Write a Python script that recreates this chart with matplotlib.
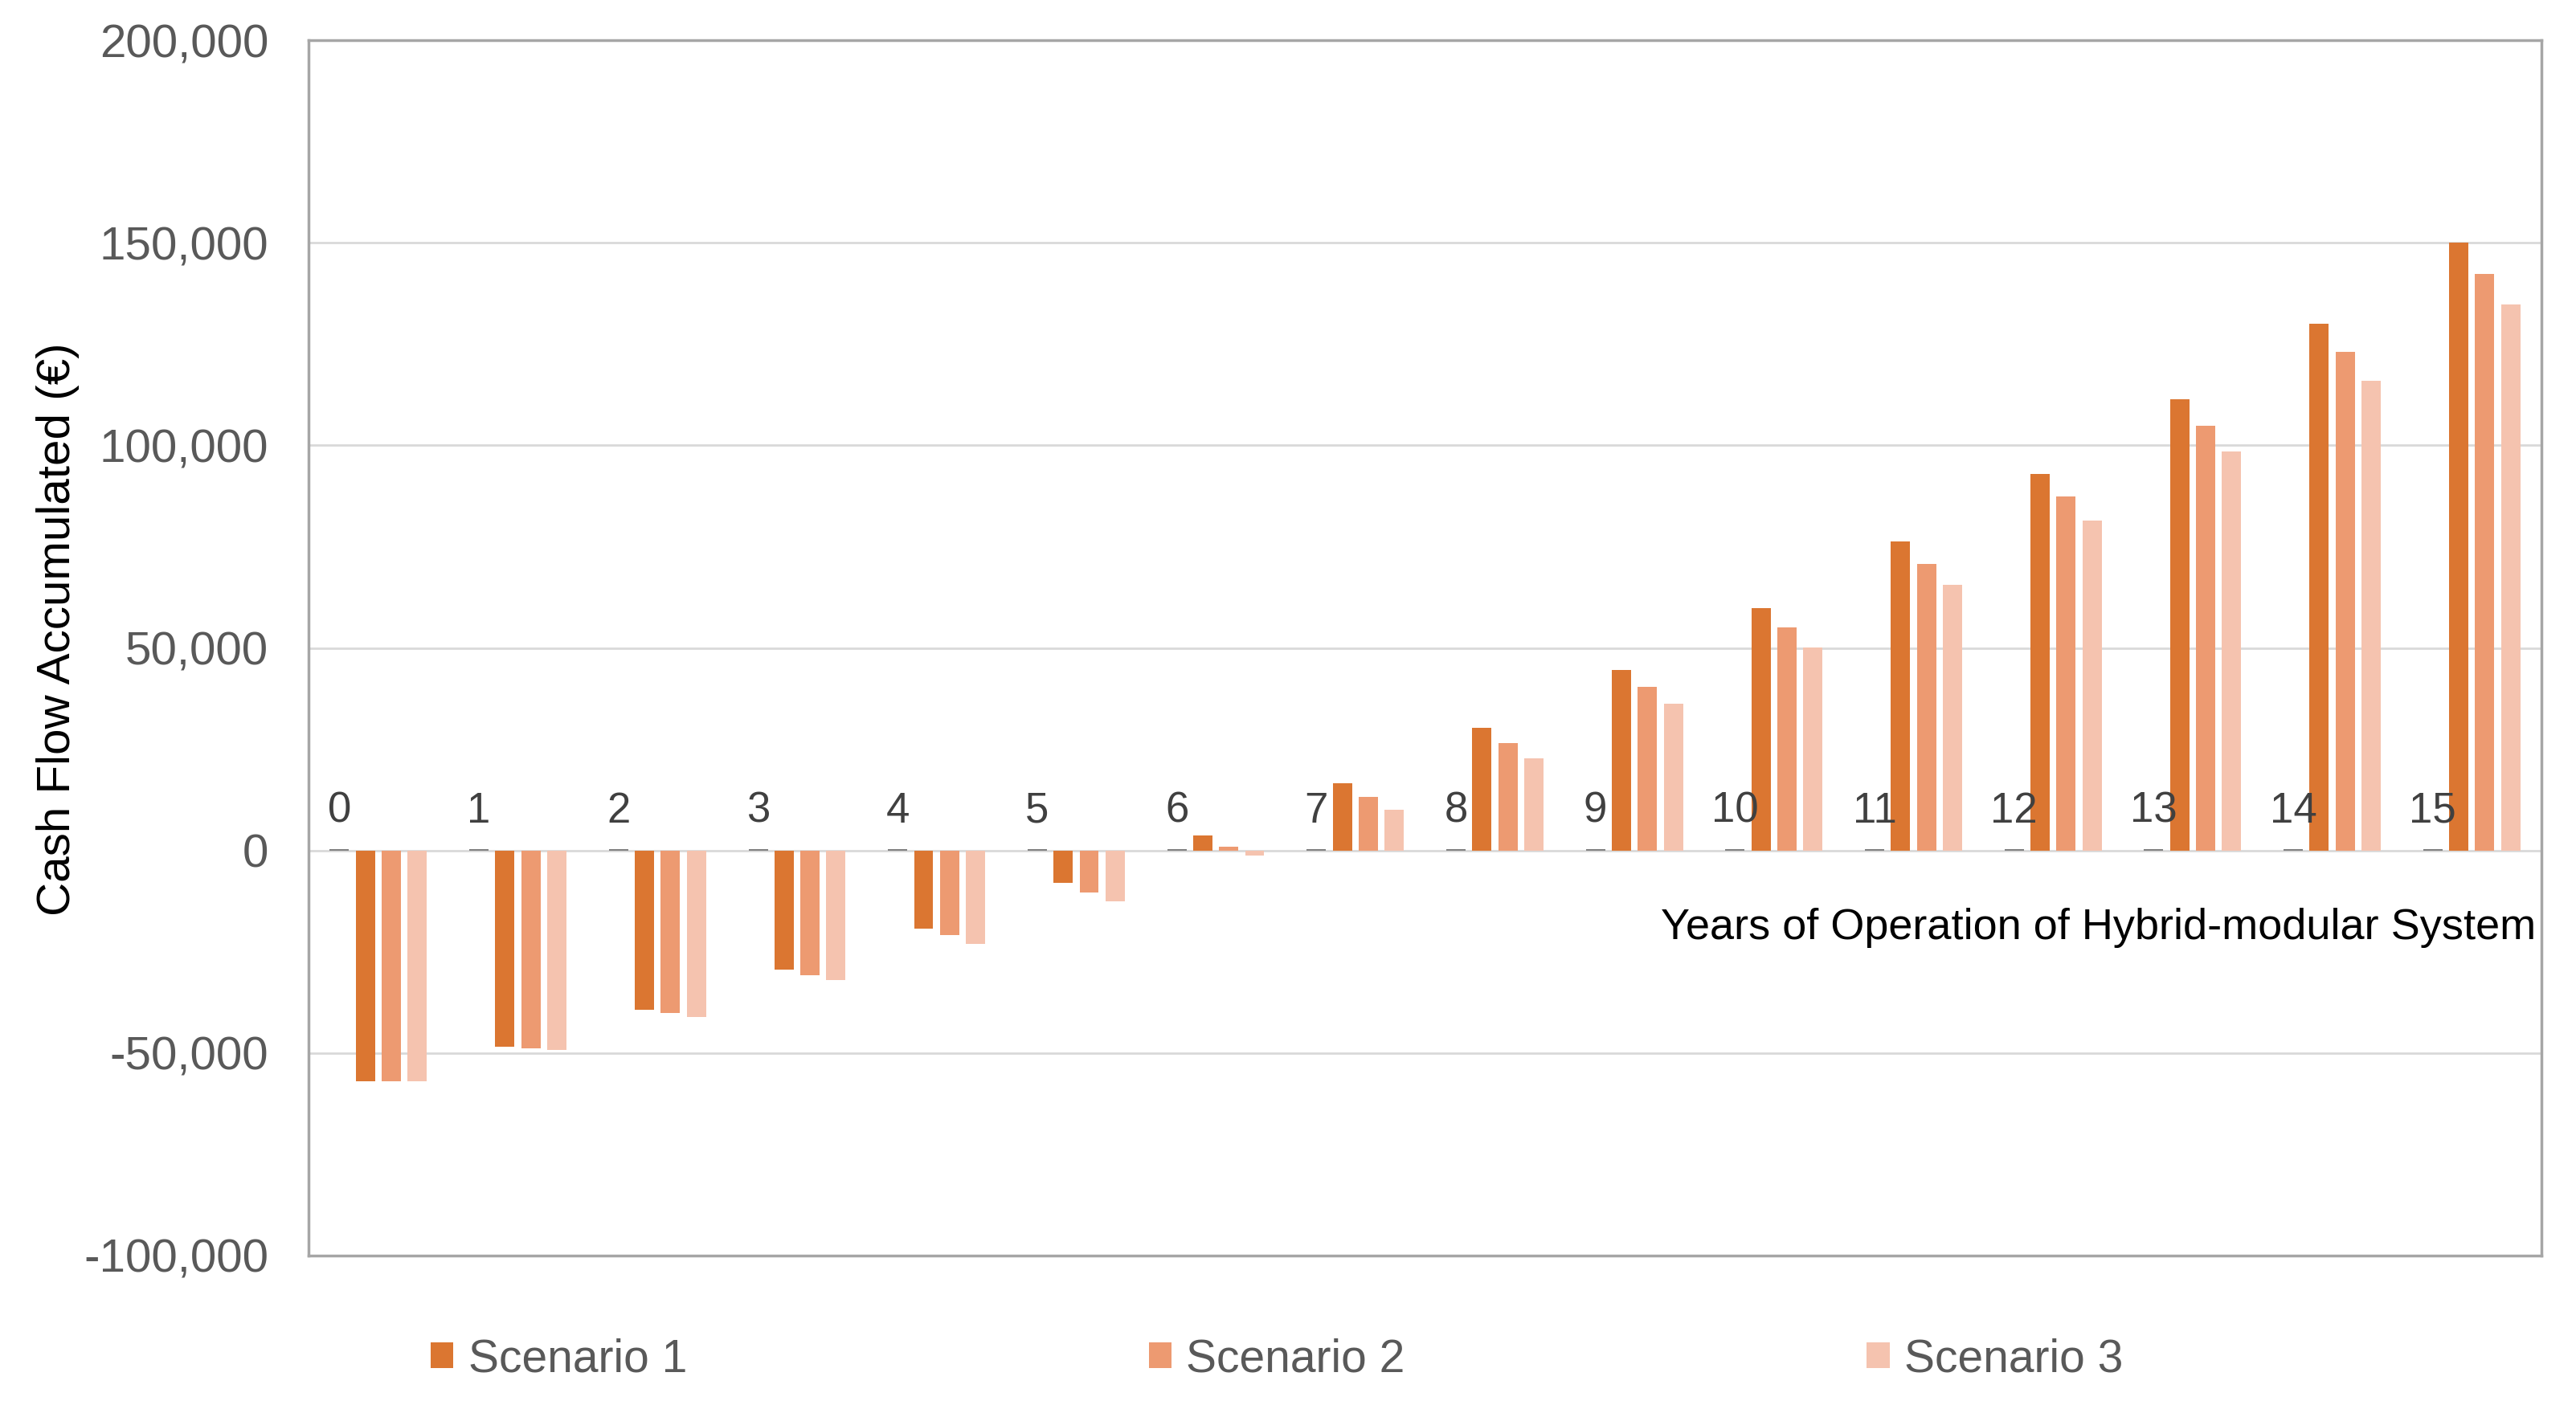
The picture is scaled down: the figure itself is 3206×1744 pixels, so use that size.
import numpy as np
import matplotlib
matplotlib.use("Agg")
import matplotlib.pyplot as plt

plt.rcParams['font.family'] = ['Liberation Sans', 'DejaVu Sans']

# years of operation (category labels drawn as data labels)
years = list(range(16))

# accumulated cash flow, EUR
scenario1 = [-57000, -48500, -39400, -29400, -19300, -8000, 3800, 16600,
             30200, 44600, 59900, 76200, 93000, 111300, 130100, 150000]
scenario2 = [-57000, -48800, -40100, -30900, -20900, -10400, 1000, 13300,
             26600, 40400, 55100, 70800, 87400, 104800, 123000, 142400]
scenario3 = [-57000, -49300, -41100, -32000, -23000, -12500, -1300, 10100,
             22800, 36200, 50200, 65600, 81400, 98400, 116000, 134700]
# the little "year" series sitting on the zero line
year_series = [400] * 16

series_names = ["Scenario 1", "Scenario 2", "Scenario 3"]
colors = ["#DB7631", "#ED9A71", "#F5C3AF"]

fig = plt.figure(figsize=(32.06, 17.44), dpi=100)
ax = fig.add_axes([0.1198, 0.1038, 0.8668, 0.8675])

x = np.arange(len(years))
step = 0.186
w = 0.138

ax.bar(x - 1.5 * step, year_series, w, color="#7f7f7f", zorder=3)
for k, (vals, name, c) in enumerate(zip([scenario1, scenario2, scenario3], series_names, colors)):
    ax.bar(x + (k - 0.5) * step, vals, w, color=c, label=name, zorder=3)

for xi, yr in zip(x, years):
    ax.text(xi - 1.5 * step, 9700, str(yr), ha="center", va="center",
            fontsize=38, color="#404040", zorder=4)

ax.set_xlim(-0.5, 15.5)
ax.set_ylim(-100000, 200000)
ticks = [-100000, -50000, 0, 50000, 100000, 150000, 200000]
ax.set_yticks(ticks)
ax.set_yticklabels(["{:,}".format(v) for v in ticks])
ax.tick_params(axis="y", length=0, pad=36, labelsize=42, labelcolor="#595959")
ax.set_xticks([])
ax.grid(axis="y", color="#d9d9d9", linewidth=2, zorder=0)
for s in ax.spines.values():
    s.set_color("#a6a6a6")
    s.set_linewidth(2.5)

ax.text(0.9975, 0.2695, "Years of Operation of Hybrid-modular System",
        transform=ax.transAxes, ha="right", va="center", fontsize=39, color="black")

fig.text(0.0225, 0.551, "Cash Flow Accumulated (€)", rotation=90,
         ha="center", va="center", fontsize=42, color="black")

fig.legend(loc="center left", bbox_to_anchor=(536 / 3206, 0.0298), ncol=3, frameon=False,
           fontsize=41, handlelength=0.5, handleheight=0.5, handletextpad=0.32,
           columnspacing=10.09, borderpad=0, borderaxespad=0, labelcolor="#595959")

fig.savefig("out.png", dpi=100)
